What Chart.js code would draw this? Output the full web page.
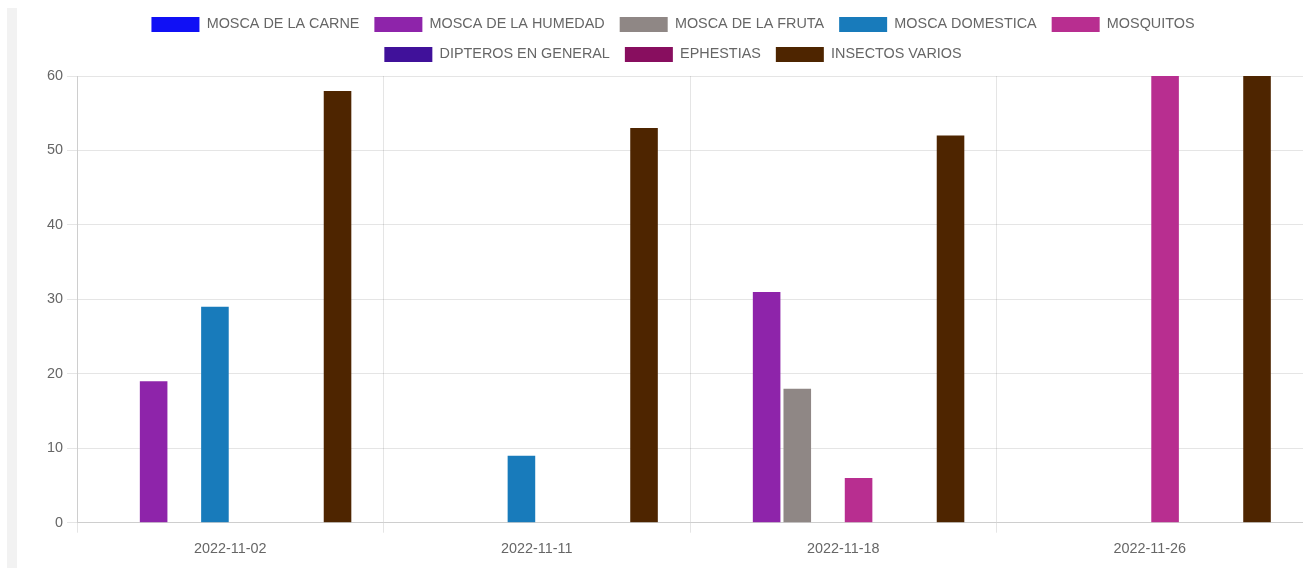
<!DOCTYPE html>
<html>
<head>
<meta charset="utf-8">
<script src="https://cdn.jsdelivr.net/npm/chart.js@4"></script>
<style>
  body { margin: 0; background: #fff; width: 1310px; height: 568px; overflow: hidden; position: relative; }
  .strip { position: absolute; left: 7px; top: 8px; width: 10px; height: 560px; background: #f2f2f2; }
  .wrap { position: absolute; left: 43px; top: 2px; width: 1260px; height: 564px; }
</style>
</head>
<body>
<div class="strip"></div>
<div class="wrap"><canvas id="plagasChart"></canvas></div>
<script>
// Fechas de muestreo
const fechas = ['2022-11-02', '2022-11-11', '2022-11-18', '2022-11-26'];

// Capturas por tipo de insecto
const moscaCarne = [0, 0, 0, 0];
const moscaHumedad = [19, 0, 31, 0];
const moscaFruta = [0, 0, 18, 0];
const moscaDomestica = [29, 9, 0, 0];
const mosquitos = [0, 0, 6, 60];
const dipteros = [0, 0, 0, 0];
const ephestias = [0, 0, 0, 0];
const insectosVarios = [58, 53, 52, 60];

const yTicks = [0, 10, 20, 30, 40, 50, 60];

Chart.defaults.font.family = '"Liberation Sans", Arial, sans-serif';
Chart.defaults.font.size = 14.4;
Chart.defaults.color = '#666';

// a bit more room under the legend
const legendGap = {
  id: 'legendGap',
  beforeInit(chart) {
    const fit = chart.legend.fit;
    chart.legend.fit = function () {
      fit.call(this);
      this.height += 4;
    };
  },
};

const ctx = document.getElementById('plagasChart').getContext('2d');
const plagasChart = new Chart(ctx, {
  type: 'bar',
  data: {
    labels: fechas,
    datasets: [
      { label: 'MOSCA DE LA CARNE', data: moscaCarne, backgroundColor: '#1010f5' },
      { label: 'MOSCA DE LA HUMEDAD', data: moscaHumedad, backgroundColor: '#8e24aa' },
      { label: 'MOSCA DE LA FRUTA', data: moscaFruta, backgroundColor: '#8f8785' },
      { label: 'MOSCA DOMESTICA', data: moscaDomestica, backgroundColor: '#187bbb' },
      { label: 'MOSQUITOS', data: mosquitos, backgroundColor: '#b82e90' },
      { label: 'DIPTEROS EN GENERAL', data: dipteros, backgroundColor: '#40119a' },
      { label: 'EPHESTIAS', data: ephestias, backgroundColor: '#880e5f' },
      { label: 'INSECTOS VARIOS', data: insectosVarios, backgroundColor: '#4e2500' },
    ],
  },
  options: {
    responsive: true,
    maintainAspectRatio: false,
    animation: false,
    plugins: {
      legend: {
        position: 'top',
        labels: { boxWidth: 48, boxHeight: 15, padding: 15 },
      },
      tooltip: { enabled: false },
    },
    scales: {
      x: {
        grid: { color: 'rgba(0,0,0,0.1)', tickLength: 10 },
        ticks: { padding: 8 },
      },
      y: {
        beginAtZero: true,
        min: 0,
        max: 60,
        afterBuildTicks: (axis) => { axis.ticks = yTicks.map(v => ({ value: v })); },
        grid: { color: 'rgba(0,0,0,0.1)', tickLength: 10 },
        ticks: { padding: 4 },
      },
    },
  },
  plugins: [legendGap],
});
</script>
</body>
</html>
